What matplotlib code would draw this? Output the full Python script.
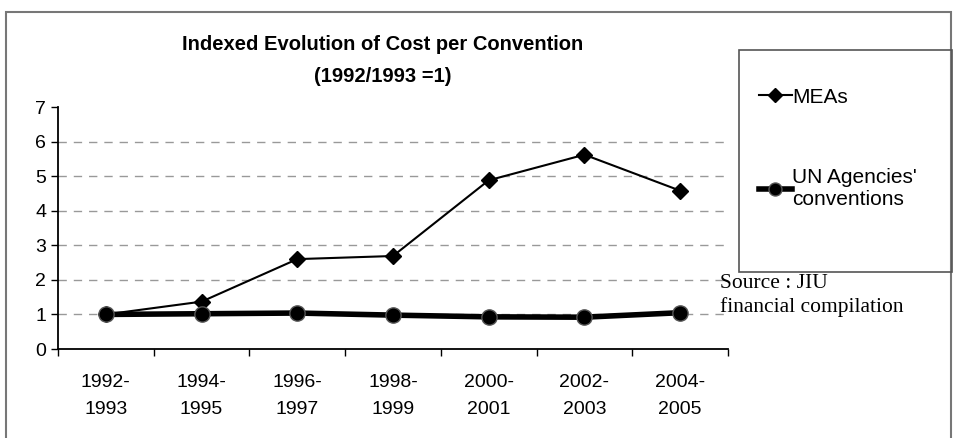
import matplotlib.pyplot as plt
from matplotlib.patches import Rectangle

periods = ["1992-\n1993", "1994-\n1995", "1996-\n1997", "1998-\n1999",
           "2000-\n2001", "2002-\n2003", "2004-\n2005"]
meas = [1.0, 1.37, 2.6, 2.69, 4.88, 5.62, 4.58]
un_agencies = [1.0, 1.02, 1.04, 0.98, 0.93, 0.92, 1.05]

W, H = 957, 438
fig = plt.figure(figsize=(W / 100, H / 100), dpi=100)
ax = fig.add_axes([58 / W, (H - 349) / H, 670 / W, 242 / H])

for v in range(1, 7):
    ax.axhline(v, color='#999999', lw=1, ls=(0, (6, 5)), zorder=0)

x = list(range(len(periods)))
l1, = ax.plot(x, meas, color='black', lw=1.5, marker='D', ms=8, label='MEAs')
l2, = ax.plot(x, un_agencies, color='black', lw=4, marker='o', ms=11,
              markeredgecolor='#555555', markeredgewidth=1,
              label="UN Agencies'\nconventions")

ax.set_xlim(-0.5, len(periods) - 0.5)
ax.set_ylim(0, 7)
ax.set_yticks(range(8))
ax.set_xticks([i - 0.5 for i in range(len(periods) + 1)])
ax.set_xticklabels([])
ax.set_xticks(x, minor=True)
ax.set_xticklabels(periods, minor=True, fontsize=14, family='Liberation Sans',
                   linespacing=1.75)
ax.tick_params(axis='x', which='minor', length=0, pad=18)
ax.tick_params(axis='x', which='major', length=5, direction='out', width=1)
ax.tick_params(axis='y', length=5, labelsize=14, width=1)
for lab in ax.get_yticklabels():
    lab.set_family('Liberation Sans')
ax.spines['top'].set_visible(False)
ax.spines['right'].set_visible(False)
ax.spines['left'].set_linewidth(1.3)
ax.spines['bottom'].set_linewidth(1.3)

fig.text(383 / W, 1 - 44 / H, "Indexed Evolution of Cost per Convention",
         ha='center', va='center', fontsize=14.5, fontweight='bold', family='Liberation Sans')
fig.text(383 / W, 1 - 76 / H, "(1992/1993 =1)",
         ha='center', va='center', fontsize=14.5, fontweight='bold', family='Liberation Sans')

# outer frame
fig.patches.append(Rectangle((6 / W, -0.1), 945 / W, 1 - 12 / H + 0.1,
                             transform=fig.transFigure, fill=False,
                             edgecolor='#777777', lw=1.5))
# legend box
fig.patches.append(Rectangle((739 / W, 1 - 272 / H), 213 / W, 222 / H,
                             transform=fig.transFigure, fill=False,
                             edgecolor='#555555', lw=1.2))
leg = fig.legend(handles=[l1, l2], loc='upper left',
                 bbox_to_anchor=(740 / W, 1 - 69 / H), frameon=False,
                 prop={'family': 'Liberation Sans', 'size': 15},
                 handlelength=1.6, labelspacing=2.95, handletextpad=0.0,
                 markerscale=0.85)

fig.text(720 / W, 1 - 283 / H, "Source : JIU", ha='left', va='center',
         fontsize=15.5, family='Liberation Serif')
fig.text(720 / W, 1 - 307 / H, "financial compilation", ha='left', va='center',
         fontsize=15.5, family='Liberation Serif')

fig.savefig('out.png', dpi=100)
